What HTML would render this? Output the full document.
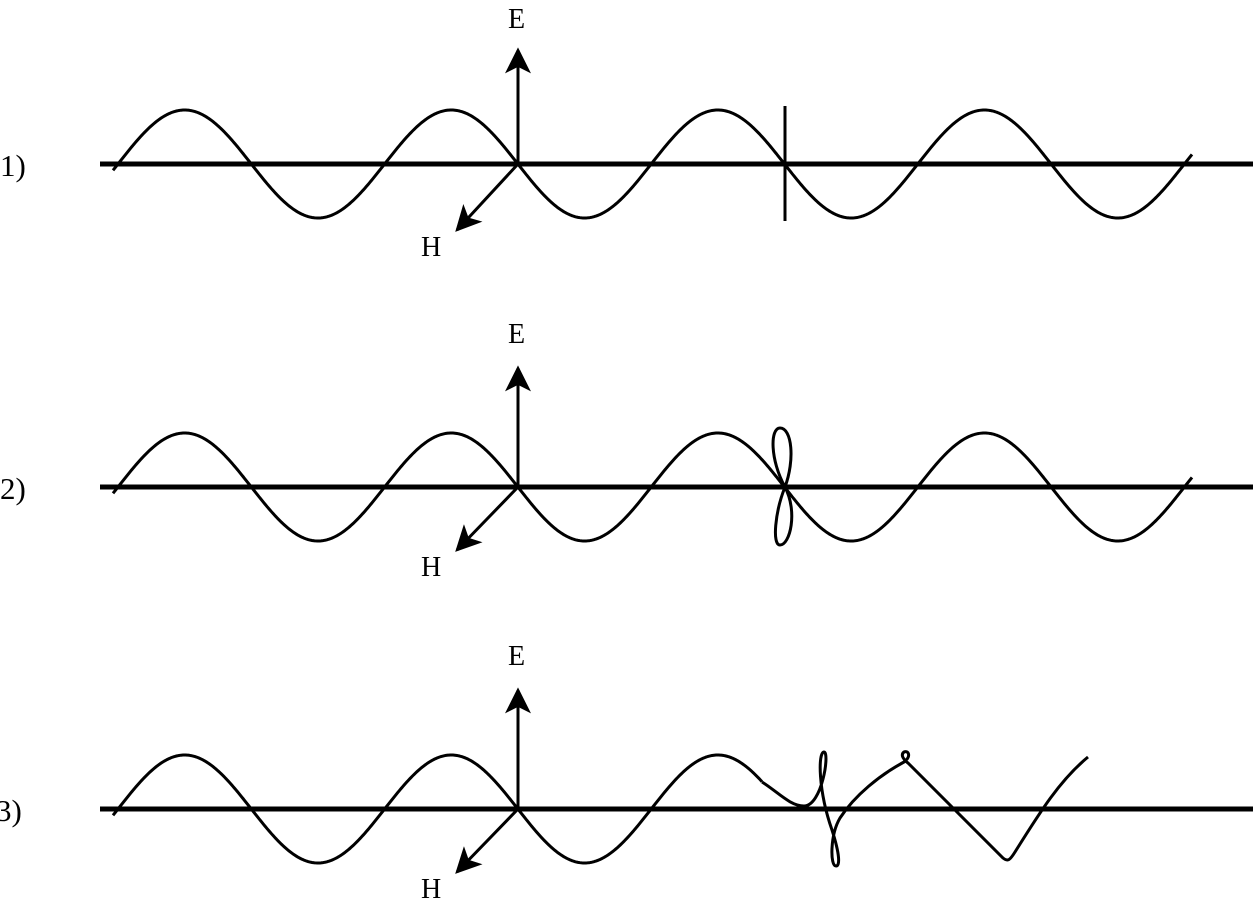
<!DOCTYPE html>
<html><head><style>
html,body{margin:0;padding:0;background:#fff;}
svg{display:block;}
text{font-family:"Liberation Serif",serif;font-size:28px;fill:#000;}
.n{font-size:31px;}
</style></head><body>
<svg id="s" width="1253" height="900" viewBox="0 0 1253 900" xmlns="http://www.w3.org/2000/svg">
<defs>
<marker id="ah" viewBox="0 0 20 20" refX="18" refY="10" markerWidth="26" markerHeight="26" markerUnits="userSpaceOnUse" orient="auto">
<path d="M0,0 L20,10 L0,20 L5,10 Z" fill="#000"/>
</marker>
</defs>
<g stroke="#000" fill="none">
<line x1="100" y1="164" x2="1253" y2="164" stroke-width="5"/>
<line x1="100" y1="487" x2="1253" y2="487" stroke-width="5"/>
<line x1="100" y1="809" x2="1253" y2="809" stroke-width="5"/>
<path id="w1" stroke-width="3"/>
<path id="w2" stroke-width="3"/>
<path id="w3" stroke-width="3"/>
<line x1="785" y1="106" x2="785" y2="221" stroke-width="3"/>
<path d="M785,487 C770,460 770,428 780,428 C792,428 795,460 785,487 C775,512 772,545 780,545 C790,545 798,512 785,487" stroke-width="3"/>
<path d="M762,782 C778,792 790,806 804,806 C822,806 830,752 824,752 C818,752 818,790 832,830 C840,855 840,866 836,866 C830,866 830,835 840,818 C855,795 880,775 904,762 C912,756 908,750 904,752 C900,755 904,760 908,763 L1003,858 C1008,862 1010,860 1015,852 C1040,812 1060,780 1088,757" stroke-width="3"/>
<line x1="518" y1="164" x2="518" y2="50" stroke-width="3" marker-end="url(#ah)"/>
<line x1="518" y1="164" x2="457" y2="230" stroke-width="3" marker-end="url(#ah)"/>
<line x1="518" y1="487" x2="518" y2="368" stroke-width="3" marker-end="url(#ah)"/>
<line x1="518" y1="487" x2="457" y2="550" stroke-width="3" marker-end="url(#ah)"/>
<line x1="518" y1="809" x2="518" y2="690" stroke-width="3" marker-end="url(#ah)"/>
<line x1="518" y1="809" x2="457" y2="872" stroke-width="3" marker-end="url(#ah)"/>
</g>
<text x="508" y="28">E</text>
<text x="421" y="256">H</text>
<text x="508" y="343">E</text>
<text x="421" y="576">H</text>
<text x="508" y="665">E</text>
<text x="421" y="898">H</text>
<text class="n" x="0" y="176">1)</text>
<text class="n" x="0" y="499">2)</text>
<text class="n" x="-4" y="821">3)</text>
</svg>
<script>
function wave(c,x0,x1){var d="",P=266.6,A=54;for(var x=x0;x<=x1;x+=1){var y=c-A*Math.sin(2*Math.PI*(x-118)/P);d+=(x==x0?"M":"L")+x+","+y.toFixed(2);}return d;}
document.getElementById("w1").setAttribute("d",wave(164,113,1192));
document.getElementById("w2").setAttribute("d",wave(487,113,1192));
document.getElementById("w3").setAttribute("d",wave(809,113,762));
</script>
</body></html>
